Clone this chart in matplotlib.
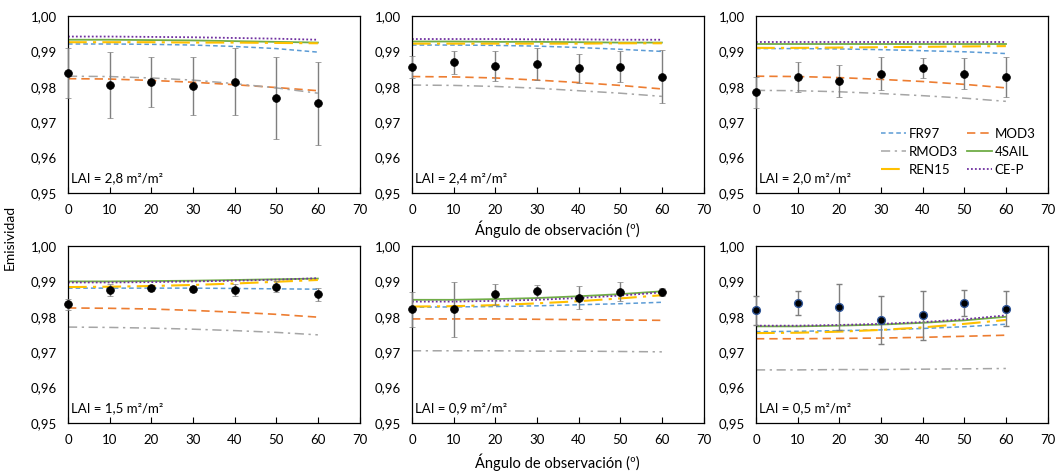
import matplotlib
matplotlib.use("Agg")
import matplotlib.pyplot as plt
import numpy as np

plt.rcParams['font.family'] = ['Lato', 'DejaVu Sans']

angles = [0, 10, 20, 30, 40, 50, 60]
lai_labels = ["LAI = 2,8 m²/m²", "LAI = 2,4 m²/m²", "LAI = 2,0 m²/m²",
              "LAI = 1,5 m²/m²", "LAI = 0,9 m²/m²", "LAI = 0,5 m²/m²"]

# measured emissivity and error per panel
meas = [
    [0.9839, 0.9805, 0.9814, 0.9802, 0.9815, 0.9768, 0.9754],
    [0.9856, 0.9869, 0.9858, 0.9864, 0.9852, 0.9857, 0.9829],
    [0.9785, 0.9827, 0.9817, 0.9837, 0.9852, 0.9837, 0.9828],
    [0.9835, 0.9876, 0.9880, 0.9878, 0.9876, 0.9885, 0.9864],
    [0.9821, 0.9821, 0.9864, 0.9872, 0.9854, 0.9871, 0.9869],
    [0.9818, 0.9839, 0.9829, 0.9792, 0.9804, 0.9839, 0.9823],
]
meas_err = [
    [0.0070, 0.0093, 0.0071, 0.0082, 0.0094, 0.0116, 0.0117],
    [0.0030, 0.0033, 0.0042, 0.0046, 0.0040, 0.0043, 0.0076],
    [0.0044, 0.0042, 0.0045, 0.0047, 0.0028, 0.0043, 0.0056],
    [0.0015, 0.0016, 0.0008, 0.0008, 0.0017, 0.0015, 0.0018],
    [0.0050, 0.0077, 0.0030, 0.0018, 0.0032, 0.0026, 0.0011],
    [0.0040, 0.0034, 0.0065, 0.0068, 0.0069, 0.0037, 0.0050],
]

FR97 = [
    [0.9921, 0.9921, 0.9920, 0.9918, 0.9914, 0.9908, 0.9898],
    [0.9918, 0.9918, 0.9917, 0.9915, 0.9911, 0.9906, 0.9900],
    [0.9908, 0.9908, 0.9907, 0.9905, 0.9902, 0.9899, 0.9894],
    [0.9881, 0.9881, 0.9881, 0.9881, 0.9880, 0.9879, 0.9878],
    [0.9827, 0.9828, 0.9829, 0.9831, 0.9834, 0.9837, 0.9841],
    [0.9758, 0.9759, 0.9761, 0.9763, 0.9767, 0.9772, 0.9779],
]
MOD3 = [
    [0.9823, 0.9822, 0.9818, 0.9813, 0.9806, 0.9798, 0.9789],
    [0.9829, 0.9828, 0.9825, 0.9819, 0.9812, 0.9804, 0.9794],
    [0.9830, 0.9829, 0.9826, 0.9821, 0.9815, 0.9807, 0.9797],
    [0.9825, 0.9824, 0.9822, 0.9818, 0.9813, 0.9807, 0.9799],
    [0.9794, 0.9794, 0.9794, 0.9793, 0.9792, 0.9791, 0.9790],
    [0.9738, 0.9738, 0.9739, 0.9740, 0.9742, 0.9745, 0.9748],
]
RMOD3 = [
    [0.9830, 0.9829, 0.9825, 0.9819, 0.9809, 0.9797, 0.9782],
    [0.9805, 0.9804, 0.9801, 0.9796, 0.9789, 0.9782, 0.9773],
    [0.9790, 0.9789, 0.9786, 0.9781, 0.9775, 0.9768, 0.9759],
    [0.9771, 0.9770, 0.9768, 0.9765, 0.9761, 0.9756, 0.9749],
    [0.9704, 0.9704, 0.9704, 0.9703, 0.9703, 0.9702, 0.9701],
    [0.9650, 0.9650, 0.9651, 0.9651, 0.9652, 0.9653, 0.9654],
]
SAIL4 = [
    [0.9933, 0.9933, 0.9932, 0.9931, 0.9929, 0.9927, 0.9925],
    [0.9928, 0.9928, 0.9927, 0.9927, 0.9926, 0.9925, 0.9925],
    [0.9921, 0.9921, 0.9921, 0.9921, 0.9921, 0.9921, 0.9921],
    [0.9900, 0.9900, 0.9901, 0.9902, 0.9904, 0.9906, 0.9908],
    [0.9848, 0.9848, 0.9850, 0.9853, 0.9858, 0.9864, 0.9872],
    [0.9773, 0.9773, 0.9775, 0.9778, 0.9783, 0.9790, 0.9800],
]
REN15 = [
    [0.9926, 0.9926, 0.9926, 0.9925, 0.9925, 0.9924, 0.9923],
    [0.9922, 0.9922, 0.9922, 0.9922, 0.9922, 0.9923, 0.9923],
    [0.9910, 0.9910, 0.9911, 0.9912, 0.9913, 0.9914, 0.9915],
    [0.9884, 0.9885, 0.9887, 0.9890, 0.9894, 0.9899, 0.9904],
    [0.9829, 0.9830, 0.9833, 0.9838, 0.9844, 0.9852, 0.9861],
    [0.9754, 0.9755, 0.9758, 0.9763, 0.9770, 0.9780, 0.9791],
]
CEP = [
    [0.9942, 0.9942, 0.9941, 0.9940, 0.9938, 0.9936, 0.9933],
    [0.9935, 0.9935, 0.9935, 0.9934, 0.9934, 0.9933, 0.9933],
    [0.9926, 0.9926, 0.9926, 0.9926, 0.9926, 0.9926, 0.9926],
    [0.9897, 0.9897, 0.9898, 0.9900, 0.9902, 0.9905, 0.9909],
    [0.9843, 0.9843, 0.9845, 0.9848, 0.9853, 0.9860, 0.9869],
    [0.9775, 0.9775, 0.9777, 0.9780, 0.9785, 0.9793, 0.9804],
]

models = [
    ("FR97", FR97, dict(color="#5b9bd5", linestyle=(0, (3, 2)), linewidth=1.1)),
    ("MOD3", MOD3, dict(color="#ed7d31", linestyle=(0, (5, 3)), linewidth=1.2)),
    ("RMOD3", RMOD3, dict(color="#a5a5a5", linestyle=(0, (6, 3, 1.5, 3)), linewidth=1.1)),
    ("4SAIL", SAIL4, dict(color="#70ad47", linestyle="-", linewidth=1.3)),
    ("REN15", REN15, dict(color="#ffc000", linestyle=(0, (9, 3, 1.5, 3)), linewidth=1.5)),
    ("CE-P", CEP, dict(color="#7030a0", linestyle=(0, (1, 1.2)), linewidth=1.3)),
]

fig = plt.figure(figsize=(10.64, 4.74), dpi=100)
lefts = [0.0639, 0.3872, 0.7105]
bottoms = [0.5928, 0.1076]
w, h = 0.2740, 0.3734

axes = []
for r in range(2):
    for c in range(3):
        ax = fig.add_axes([lefts[c], bottoms[r], w, h])
        axes.append(ax)

ytick_vals = np.arange(0.95, 1.0001, 0.01)
for i, ax in enumerate(axes):
    handles = {}
    for name, data, style in models:
        ln, = ax.plot(angles, data[i], label=name, **style, zorder=2)
        handles[name] = ln
    mec = "#2f5597" if i == 5 else "black"
    ax.errorbar(angles, meas[i], yerr=meas_err[i], fmt="o", color="black",
                markersize=5.6, markeredgecolor=mec, markeredgewidth=1.0 if i == 5 else 0.5,
                ecolor="#7f7f7f", elinewidth=1.0, capsize=2, capthick=1.0,
                zorder=3, clip_on=False)
    ax.set_xlim(0, 70)
    ax.set_ylim(0.95, 1.00)
    ax.set_xticks(range(0, 71, 10))
    ax.set_yticks(ytick_vals)
    ax.set_yticklabels([f"{v:.2f}".replace(".", ",") for v in ytick_vals])
    ax.tick_params(axis="x", direction="in", length=4, width=0.8, labelsize=9.5, pad=8)
    ax.tick_params(axis="y", direction="in", length=0, labelsize=9.5, pad=8)
    for sp in ax.spines.values():
        sp.set_linewidth(0.9)
        sp.set_color("black")
    ax.text(0.012, 0.05, lai_labels[i], transform=ax.transAxes, fontsize=9.5,
            ha="left", va="bottom")
    if i == 2:
        order = ["FR97", "RMOD3", "REN15", "MOD3", "4SAIL", "CE-P"]
        ax.legend([handles[n] for n in order], order, loc="lower right",
                  bbox_to_anchor=(1.0, 0.03), ncol=2, frameon=False,
                  fontsize=9.5, handlelength=1.9, handletextpad=0.2,
                  columnspacing=0.7, labelspacing=0.45)

fig.text(0.5235, 0.516, "Ángulo de observación (º)", ha="center", va="center", fontsize=10.5)
fig.text(0.5235, 0.025, "Ángulo de observación (º)", ha="center", va="center", fontsize=10.5)
fig.text(0.009, 0.5, "Emisividad", ha="center", va="center", rotation=90, fontsize=10)

fig.savefig("out.png", dpi=100)
